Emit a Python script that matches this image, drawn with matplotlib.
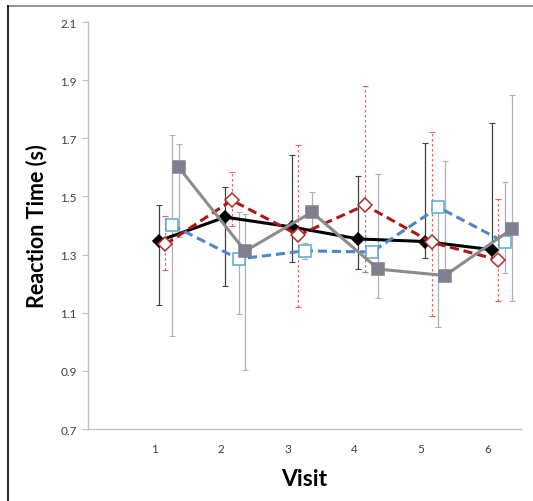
import matplotlib
matplotlib.use("Agg")
import matplotlib.pyplot as plt
from matplotlib.lines import Line2D

plt.rcParams['font.family'] = ['Lato', 'DejaVu Sans']

visits = [1, 2, 3, 4, 5, 6]

# series values, with upper / lower ends of the error bars
black_y = [1.347, 1.429, 1.395, 1.354, 1.345, 1.317]
black_hi = [1.471, 1.532, 1.643, 1.570, 1.683, 1.753]
black_lo = [1.127, 1.192, 1.273, 1.250, 1.290, 1.310]

red_y = [1.335, 1.487, 1.367, 1.470, 1.342, 1.282]
red_hi = [1.434, 1.583, 1.677, 1.879, 1.721, 1.493]
red_lo = [1.248, 1.400, 1.120, 1.241, 1.089, 1.141]

blue_y = [1.402, 1.285, 1.313, 1.309, 1.463, 1.342]
blue_hi = [1.711, 1.446, 1.340, 1.325, 1.482, 1.551]
blue_lo = [1.020, 1.097, 1.285, 1.295, 1.050, 1.237]

gray_y = [1.601, 1.312, 1.446, 1.250, 1.228, 1.388]
gray_hi = [1.680, 1.440, 1.514, 1.577, 1.623, 1.850]
gray_lo = [1.360, 0.904, 1.380, 1.150, 1.210, 1.141]

y_ticks = [0.7, 0.9, 1.1, 1.3, 1.5, 1.7, 1.9, 2.1]

fig = plt.figure(figsize=(5.33, 5.02), dpi=100)
ax = fig.add_axes([0.165, 0.1434, 0.8125, 0.8106])


def draw(offset, y, hi, lo, ecolor, els, color, ls, marker, mfc, mec, ms, z):
    x = [v + offset for v in visits]
    err = [[a - b for a, b in zip(y, lo)], [b - a for a, b in zip(y, hi)]]
    eb = ax.errorbar(x, y, yerr=err, fmt='none', ecolor=ecolor, elinewidth=0.9,
                     capsize=2, capthick=0.8, zorder=1)
    for c in eb[2]:
        c.set_linestyle(els)
    ax.plot(x, y, color=color, ls=ls, lw=2.2, marker=marker, mfc=mfc, mec=mec,
            mew=1.1, ms=ms, zorder=z, dashes=(3, 1.6) if ls == '--' else (None, None))


draw(0.06, black_y, black_hi, black_lo, '#404040', '-', 'black', '-', 'D', 'black', 'black', 6, 3)
draw(0.16, red_y, red_hi, red_lo, '#e06666', (0, (2, 2)), '#b01818', '--', 'D', 'white', '#b03030', 7, 4)
draw(0.26, blue_y, blue_hi, blue_lo, '#b0b0b0', '-', '#4f86c6', '--', 's', 'white', '#5aa8cc', 8, 5)
draw(0.36, gray_y, gray_hi, gray_lo, '#b0b0b0', '-', '#8c8c8c', '-', 's', '#7f7f8f', '#7f7f8f', 8, 6)

ax.set_xlim(0, 6.5)
ax.set_ylim(0.7, 2.1)
ax.set_xticks(visits)
ax.set_xticklabels([str(v) for v in visits])
ax.set_yticks(y_ticks)
ax.set_yticklabels(['%.1f' % t for t in y_ticks])
ax.tick_params(axis='x', length=0, labelsize=8.5, colors='#404040', pad=10)
ax.tick_params(axis='y', length=4, width=0.8, colors='#bfbfbf', labelcolor='#404040',
               labelsize=8.5, pad=4)

for side in ['top', 'right']:
    ax.spines[side].set_visible(False)
for side in ['left', 'bottom']:
    ax.spines[side].set_color('#bfbfbf')
    ax.spines[side].set_linewidth(1.0)

ax.set_ylabel('Reaction Time (s)', fontsize=15.5, fontweight='bold', labelpad=9)
ax.set_xlabel('Visit', fontsize=16.5, fontweight='bold', labelpad=10)

# chart frame (top and left edges visible in the crop)
fig.add_artist(Line2D([8 / 533, 1], [1 - 7 / 502, 1 - 7 / 502], color='#808080', lw=1.2))
fig.add_artist(Line2D([8 / 533, 8 / 533], [0, 1 - 7 / 502], color='black', lw=1.2))

fig.savefig('out.png', dpi=100)
